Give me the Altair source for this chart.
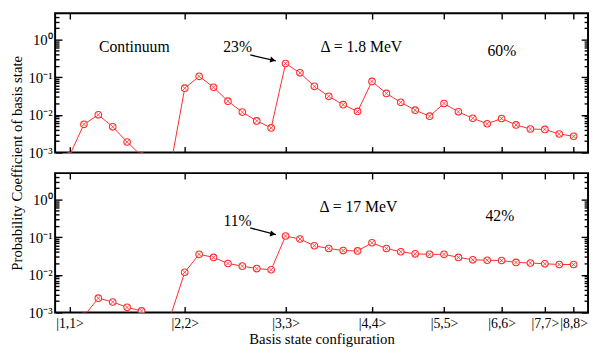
import altair as alt
import pandas as pd

# ---------------- data ----------------
x_index = list(range(36))
state_ticks = [0, 8, 15, 21, 26, 30, 33, 35]
state_labels = ["|1,1>", "|2,2>", "|3,3>", "|4,4>", "|5,5>", "|6,6>", "|7,7>", "|8,8>"]

# Delta = 1.8 MeV (top panel)
top_values = [
    0.00083, 0.0056, 0.0100, 0.0048, 0.0019, 0.00082, 0.0004, 0.0004,
    0.051, 0.105, 0.054, 0.023, 0.0118, 0.0069, 0.0045,
    0.23, 0.13, 0.057, 0.031, 0.0186, 0.0123,
    0.077, 0.037, 0.0215, 0.0133, 0.0092,
    0.020, 0.012, 0.0081, 0.0058,
    0.0080, 0.0054, 0.0042,
    0.0041, 0.0031,
    0.0027,
]
# Delta = 17 MeV (bottom panel)
bottom_values = [
    0.0005, 0.0008, 0.0024, 0.0019, 0.00137, 0.0011, 0.0006, 0.00078,
    0.0117, 0.035, 0.029, 0.020, 0.017, 0.0146, 0.0136,
    0.107, 0.089, 0.059, 0.050, 0.044, 0.043,
    0.071, 0.050, 0.041, 0.036, 0.035,
    0.035, 0.029, 0.025, 0.0244,
    0.024, 0.0213, 0.0206,
    0.0196, 0.0188,
    0.0188,
]

top_notes_text = ["Continuum", "23%", "\u0394 = 1.8 MeV", "60%"]
top_notes_x = [4.5, 11.67, 20.26, 30.02]
top_notes_y = [0.62, 0.62, 0.62, 0.49]
bottom_notes_text = ["11%", "\u0394 = 17 MeV", "42%"]
bottom_notes_x = [11.67, 20.06, 29.88]
bottom_notes_y = [0.265, 0.61, 0.357]

top_arrow = {"x0": 12.55, "y0": 0.388, "x1": 14.33, "y1": 0.272, "hx": 14.12, "hy": 0.283}
bottom_arrow = {"x0": 12.55, "y0": 0.175, "x1": 14.33, "y1": 0.116, "hx": 14.12, "hy": 0.121}

y_major = [0.001, 0.01, 0.1, 1]
y_minor = [k * 10.0 ** e for e in (-3, -2, -1, 0) for k in range(2, 10) if k * 10.0 ** e < 5]

# ---------------- style ----------------
FONT = "Liberation Serif"
RED = "#ff2a2a"
W, H = 543, 142

MAJOR_TEST = "abs(log(datum.value)/LN10 - round(log(datum.value)/LN10)) < 0.000001"
y_label_expr = "'10' + ['\u207b\u00b3','\u207b\u00b2','\u207b\u00b9','\u2070'][round(log(datum.value)/LN10) + 3]"
x_label_expr = (
    "[" + ",".join("'%s'" % s for s in state_labels) + "][indexof(["
    + ",".join(str(v) for v in state_ticks) + "], datum.value)]"
)

xs = alt.Scale(domain=[-1, 36], nice=False, zero=False)
ys = alt.Scale(type="log", domain=[0.001, 5], nice=False)


def inward_y(orient):
    return alt.Axis(
        orient=orient, offset=-W, values=y_major + y_minor, labels=False,
        domain=False, grid=False, tickColor="black", tickWidth=1.4,
        tickSize={"condition": {"test": MAJOR_TEST, "value": 7}, "value": 4},
        title=None,
    )


def inward_x(orient):
    return alt.Axis(
        orient=orient, offset=-H, values=state_ticks, labels=False,
        domain=False, grid=False, tickColor="black", tickWidth=1.4,
        tickSize=6, title=None,
    )


def panel(values, notes_text, notes_x, notes_y, arrow, is_bottom):
    df = pd.DataFrame({"state": x_index, "p": values})

    if is_bottom:
        x_main = alt.Axis(
            orient="bottom", values=state_ticks, labelExpr=x_label_expr,
            ticks=False, domain=False, grid=False, labelFont=FONT,
            labelFontSize=14, labelColor="black", labelPadding=4,
            title="Basis state configuration", titleFont=FONT,
            titleFontSize=15, titleFontWeight="normal", titleColor="black",
            titlePadding=2,
        )
        y_main = alt.Axis(
            orient="left", values=y_major, labelExpr=y_label_expr, ticks=False,
            domain=False, grid=False, labelFont=FONT, labelFontSize=15,
            labelColor="black", labelPadding=3, title=None,
        )
    else:
        x_main = alt.Axis(
            orient="bottom", values=state_ticks, labels=False, ticks=False,
            domain=False, grid=False, title=None,
        )
        y_main = alt.Axis(
            orient="left", values=y_major, labelExpr=y_label_expr, ticks=False,
            domain=False, grid=False, labelFont=FONT, labelFontSize=15,
            labelColor="black", labelPadding=3,
            title="Probability Coefficient of basis state", titleFont=FONT,
            titleFontSize=15, titleFontWeight="normal", titleColor="black",
            titleX=-31, titleY=(2 * H + 21) / 2, titleAngle=270,
            titleBaseline="bottom", titleAlign="center",
        )

    line = alt.Chart(df).mark_line(color=RED, strokeWidth=1, clip=True).encode(
        x=alt.X("state:Q", scale=xs, axis=x_main),
        y=alt.Y("p:Q", scale=ys, axis=y_main),
    )
    circles = alt.Chart(df).mark_point(
        shape="circle", filled=True, fill="white", stroke=RED,
        strokeWidth=1.1, size=45, opacity=1, clip=True,
    ).encode(
        x=alt.X("state:Q", scale=xs, axis=inward_x("top")),
        y=alt.Y("p:Q", scale=ys, axis=inward_y("right")),
    )
    crosses = alt.Chart(df).mark_point(
        shape="M -0.62 -0.62 L 0.62 0.62 M -0.62 0.62 L 0.62 -0.62",
        filled=False, stroke=RED, strokeWidth=0.8, size=45, opacity=1,
        clip=True,
    ).encode(
        x=alt.X("state:Q", scale=xs, axis=inward_x("bottom")),
        y=alt.Y("p:Q", scale=ys, axis=inward_y("left")),
    )

    notes_df = pd.DataFrame({"t": notes_text, "x": notes_x, "y": notes_y})
    notes = alt.Chart(notes_df).mark_text(
        font=FONT, fontSize=16, color="black", align="center", baseline="middle"
    ).encode(
        x=alt.X("x:Q", scale=xs, axis=None),
        y=alt.Y("y:Q", scale=ys, axis=None),
        text="t:N",
    )

    arrow_df = pd.DataFrame([arrow])
    shaft = alt.Chart(arrow_df).mark_rule(color="black", strokeWidth=1.3).encode(
        x=alt.X("x0:Q", scale=xs, axis=None),
        x2="x1:Q",
        y=alt.Y("y0:Q", scale=ys, axis=None),
        y2="y1:Q",
    )
    head = alt.Chart(arrow_df).mark_point(
        shape="triangle-right", filled=True, color="black", size=40,
        angle=13, opacity=1,
    ).encode(
        x=alt.X("hx:Q", scale=xs, axis=None),
        y=alt.Y("hy:Q", scale=ys, axis=None),
    )

    return (
        alt.layer(line, circles, crosses, notes, shaft, head)
        .resolve_axis(x="independent", y="independent")
        .properties(width=W, height=H)
    )


top = panel(top_values, top_notes_text, top_notes_x, top_notes_y, top_arrow, False)
bottom = panel(bottom_values, bottom_notes_text, bottom_notes_x, bottom_notes_y, bottom_arrow, True)

chart = (
    alt.vconcat(top, bottom, spacing=21, bounds="flush")
    .properties(padding=0)
    .configure_view(stroke="black", strokeWidth=2)
)

chart.save("out.html", embed_options={"renderer": "svg", "actions": False})
